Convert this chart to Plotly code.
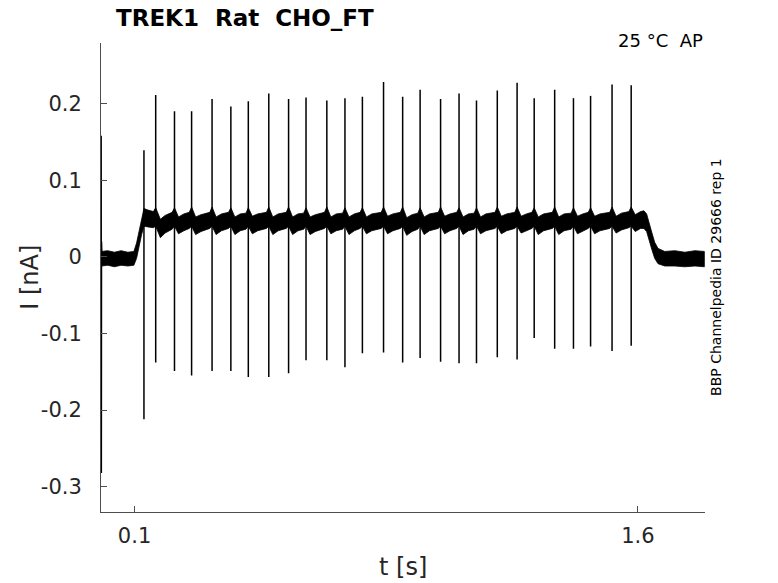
import plotly.graph_objects as go

# ---- data ----
spike_t = [0.128, 0.163, 0.219, 0.270, 0.331, 0.387, 0.439, 0.500, 0.559, 0.611,
           0.673, 0.727, 0.779, 0.842, 0.899, 0.951, 1.012, 1.067, 1.119, 1.181,
           1.240, 1.291, 1.352, 1.408, 1.459, 1.523, 1.580]
spike_peak = [0.139, 0.211, 0.190, 0.190, 0.206, 0.196, 0.203, 0.213, 0.206, 0.208,
              0.204, 0.207, 0.209, 0.228, 0.209, 0.218, 0.206, 0.213, 0.204, 0.217,
              0.227, 0.207, 0.218, 0.207, 0.210, 0.225, 0.224]
spike_trough = [-0.212, -0.138, -0.149, -0.155, -0.149, -0.149, -0.157, -0.157, -0.152, -0.135,
                -0.135, -0.144, -0.126, -0.125, -0.138, -0.132, -0.137, -0.139, -0.139, -0.131,
                -0.134, -0.106, -0.120, -0.120, -0.117, -0.123, -0.116]

start_t = [0.0005, 0.0010, 0.0015, 0.0030]
start_i = [0.158, -0.282, 0.020, -0.002]

# envelope of the noisy holding current (upper / lower edge of the black band)
env_t = [0.002, 0.02, 0.04, 0.06, 0.08, 0.098,
         0.106, 0.114, 0.121,
         0.128, 0.140, 0.156,
         0.163, 0.177, 0.191, 0.212,
         0.219, 0.231, 0.247, 0.263,
         0.270, 0.282, 0.298, 0.324,
         0.331, 0.343, 0.359, 0.380,
         0.387, 0.399, 0.415, 0.432,
         0.439, 0.451, 0.467, 0.493,
         0.500, 0.512, 0.528, 0.552,
         0.559, 0.571, 0.587, 0.604,
         0.611, 0.623, 0.639, 0.666,
         0.673, 0.685, 0.701, 0.720,
         0.727, 0.739, 0.755, 0.772,
         0.779, 0.791, 0.807, 0.835,
         0.842, 0.854, 0.870, 0.892,
         0.899, 0.911, 0.927, 0.944,
         0.951, 0.963, 0.979, 1.005,
         1.012, 1.024, 1.040, 1.060,
         1.067, 1.079, 1.095, 1.112,
         1.119, 1.131, 1.147, 1.174,
         1.181, 1.193, 1.209, 1.233,
         1.240, 1.252, 1.268, 1.284,
         1.291, 1.303, 1.319, 1.345,
         1.352, 1.364, 1.380, 1.401,
         1.408, 1.420, 1.436, 1.452,
         1.459, 1.471, 1.487, 1.516,
         1.523, 1.535, 1.551, 1.573,
         1.580, 1.592, 1.608,
         1.618, 1.626, 1.634, 1.642, 1.650, 1.660, 1.680, 1.710, 1.740, 1.770, 1.798]
env_hi = [0.007, 0.008, 0.006, 0.008, 0.006, 0.007,
          0.018, 0.033, 0.050,
          0.063, 0.061, 0.059,
          0.064, 0.049, 0.054, 0.058,
          0.064, 0.052, 0.056, 0.058,
          0.065, 0.052, 0.055, 0.058,
          0.065, 0.052, 0.056, 0.058,
          0.064, 0.052, 0.056, 0.057,
          0.064, 0.053, 0.056, 0.058,
          0.065, 0.052, 0.056, 0.058,
          0.065, 0.052, 0.056, 0.057,
          0.064, 0.052, 0.055, 0.058,
          0.065, 0.052, 0.056, 0.057,
          0.064, 0.052, 0.056, 0.058,
          0.064, 0.052, 0.056, 0.058,
          0.065, 0.053, 0.056, 0.058,
          0.065, 0.051, 0.055, 0.057,
          0.064, 0.052, 0.056, 0.058,
          0.065, 0.053, 0.056, 0.058,
          0.064, 0.052, 0.056, 0.057,
          0.064, 0.052, 0.056, 0.058,
          0.065, 0.053, 0.056, 0.058,
          0.065, 0.053, 0.056, 0.058,
          0.064, 0.052, 0.056, 0.058,
          0.065, 0.052, 0.056, 0.057,
          0.064, 0.053, 0.056, 0.058,
          0.064, 0.053, 0.056, 0.058,
          0.065, 0.053, 0.057, 0.059,
          0.065, 0.055, 0.059,
          0.060, 0.056, 0.045, 0.031, 0.019, 0.011, 0.007, 0.008, 0.006, 0.008, 0.007]
env_lo = [-0.012, -0.011, -0.013, -0.011, -0.012, -0.011,
          -0.002, 0.013, 0.029,
          0.040, 0.039, 0.038,
          0.040, 0.025, 0.031, 0.036,
          0.040, 0.030, 0.034, 0.037,
          0.040, 0.029, 0.033, 0.037,
          0.040, 0.029, 0.034, 0.037,
          0.040, 0.029, 0.034, 0.036,
          0.040, 0.030, 0.034, 0.037,
          0.040, 0.029, 0.034, 0.037,
          0.040, 0.029, 0.034, 0.036,
          0.040, 0.029, 0.033, 0.037,
          0.040, 0.030, 0.034, 0.036,
          0.040, 0.029, 0.034, 0.037,
          0.040, 0.030, 0.034, 0.037,
          0.040, 0.030, 0.034, 0.037,
          0.040, 0.028, 0.033, 0.036,
          0.040, 0.029, 0.034, 0.037,
          0.040, 0.030, 0.034, 0.037,
          0.040, 0.029, 0.034, 0.036,
          0.040, 0.030, 0.034, 0.037,
          0.040, 0.030, 0.034, 0.037,
          0.040, 0.031, 0.034, 0.037,
          0.040, 0.029, 0.034, 0.037,
          0.040, 0.029, 0.034, 0.036,
          0.040, 0.030, 0.034, 0.037,
          0.040, 0.030, 0.034, 0.037,
          0.040, 0.031, 0.035, 0.038,
          0.040, 0.033, 0.037,
          0.037, 0.033, 0.022, 0.009, -0.002, -0.009, -0.012, -0.012, -0.013, -0.012, -0.013]

x_tickvals = [0.1, 1.6]
x_ticktext = ["0.1", "1.6"]
y_tickvals = [-0.3, -0.2, -0.1, 0, 0.1, 0.2]
y_ticktext = ["-0.3", "-0.2", "-0.1", "0", "0.1", "0.2"]

title_text = "TREK1\u00a0\u00a0Rat\u00a0\u00a0CHO_FT"
temp_text = "25 \u00b0C\u00a0\u00a0AP"
side_text = "BBP Channelpedia ID 29666 rep 1"

assert len(env_t) == len(env_hi) == len(env_lo)

FONT = "DejaVu Sans"
INK = "#262626"

fig = go.Figure()

# noisy holding-current band
fig.add_trace(go.Scatter(
    x=env_t + env_t[::-1], y=env_hi + env_lo[::-1],
    fill="toself", fillcolor="black", mode="lines",
    line=dict(color="black", width=0.8), hoverinfo="skip", showlegend=False))

# spikes
sx, sy = [], []
for t, p, q in zip(spike_t, spike_peak, spike_trough):
    sx += [t, t, None]
    sy += [q, p, None]
fig.add_trace(go.Scatter(x=sx, y=sy, mode="lines",
                         line=dict(color="black", width=1.5), showlegend=False))

# start transient
fig.add_trace(go.Scatter(x=start_t, y=start_i, mode="lines",
                         line=dict(color="black", width=1.5), showlegend=False))

axis_common = dict(showgrid=False, zeroline=False, showline=True,
                   linecolor="#4d4d4d", linewidth=1, ticks="inside",
                   ticklen=6, tickcolor="#4d4d4d",
                   tickfont=dict(family=FONT, size=21, color=INK))

fig.update_layout(
    width=778, height=583,
    margin=dict(l=101, r=73, t=43, b=71),
    plot_bgcolor="white", paper_bgcolor="white",
    xaxis=dict(range=[0, 1.8], tickvals=x_tickvals, ticktext=x_ticktext,
               ticklabelstandoff=5, **axis_common),
    yaxis=dict(range=[-0.333, 0.279], tickvals=y_tickvals, ticktext=y_ticktext,
               ticklabelstandoff=14, **axis_common),
    annotations=[
        dict(text="<b>" + title_text + "</b>", xref="paper", yref="paper",
             x=0.022, y=1.053, xanchor="left", yanchor="middle", showarrow=False,
             font=dict(family=FONT, size=23, color="black")),
        dict(text=temp_text, xref="paper", yref="paper", x=1.0, y=1.006,
             xanchor="right", yanchor="middle", showarrow=False,
             font=dict(family=FONT, size=18, color="black")),
        dict(text=side_text, xref="paper", yref="paper", x=1.018, y=0.501,
             xanchor="center", yanchor="middle", textangle=-90, showarrow=False,
             font=dict(family=FONT, size=14, color="black")),
        dict(text="I [nA]", xref="paper", yref="paper", x=-0.118, y=0.501,
             xanchor="center", yanchor="middle", textangle=-90, showarrow=False,
             font=dict(family=FONT, size=24, color=INK)),
        dict(text="t [s]", xref="paper", yref="paper", x=0.5, y=-0.117,
             xanchor="center", yanchor="middle", showarrow=False,
             font=dict(family=FONT, size=24, color=INK)),
    ],
)

# remove the browser's default 8 px page margin so the figure fills the window
fig.write_html("out.html", config={"displayModeBar": False},
               post_script="document.body.style.margin='0';")
